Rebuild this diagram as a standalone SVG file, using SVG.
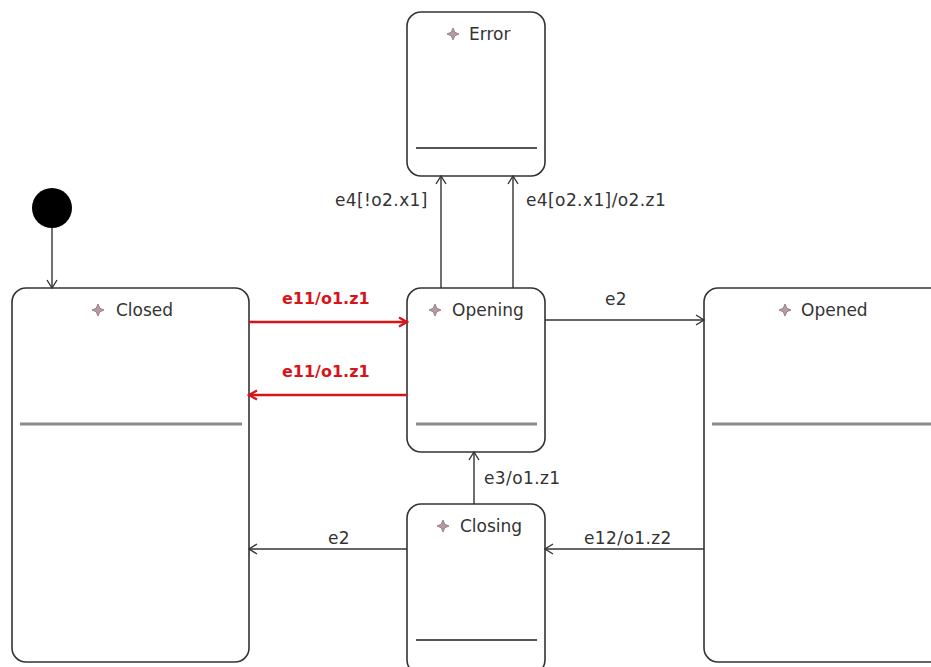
<svg xmlns="http://www.w3.org/2000/svg" width="931" height="667" viewBox="0 0 931 667">
<style>
.box{fill:#fff;stroke:#333;stroke-width:1.6}
.sep{stroke:#8a8a8a;stroke-width:3}
.sepd{stroke:#555;stroke-width:2}
.title{font-family:"DejaVu Sans",sans-serif;font-size:17px;fill:#333}
.lbl{font-family:"DejaVu Sans",sans-serif;font-size:17px;letter-spacing:0.4px;fill:#333}
.red{font-family:"DejaVu Sans",sans-serif;font-size:16px;font-weight:bold;fill:#d8141b}
.icon{fill:#b89aa6;stroke:#8a6f7a;stroke-width:0.8}
.edge{stroke:#333;stroke-width:1.4;fill:none;marker-end:url(#arr)}
.edgeR{stroke:#d8141b;stroke-width:2.6;fill:none;marker-end:url(#arrR)}
</style>
<defs>
<marker id="arr" markerWidth="12" markerHeight="12" refX="10" refY="6" orient="auto" markerUnits="userSpaceOnUse">
<path d="M2,1 L10,6 L2,11" fill="none" stroke="#333" stroke-width="1.4"/>
</marker>
<marker id="arrR" markerWidth="12" markerHeight="12" refX="10" refY="6" orient="auto" markerUnits="userSpaceOnUse">
<path d="M2,1.5 L10,6 L2,10.5" fill="none" stroke="#d8141b" stroke-width="2.2"/>
</marker>
<path id="star" d="M0,-6 L1.8,-1.8 L6,0 L1.8,1.8 L0,6 L-1.8,1.8 L-6,0 L-1.8,-1.8 Z"/>
</defs>
<rect width="931" height="667" fill="#fff"/>

<g id="initial">
<circle cx="52" cy="208" r="20" fill="#000"/>
</g>

<g id="Error">
<rect class="box" x="407" y="12" width="138" height="164" rx="14"/>
<use href="#star" class="icon" x="453" y="34"/>
<text class="title" x="469" y="40">Error</text>
<line class="sepd" x1="416" y1="148" x2="537" y2="148"/>
</g>

<g id="Closed">
<rect class="box" x="12" y="288" width="237" height="374" rx="14"/>
<use href="#star" class="icon" x="98" y="310"/>
<text class="title" x="116" y="316">Closed</text>
<line class="sep" x1="20" y1="424" x2="242" y2="424"/>
</g>

<g id="Opening">
<rect class="box" x="407" y="288" width="138" height="164" rx="14"/>
<use href="#star" class="icon" x="435" y="310"/>
<text class="title" x="452" y="316">Opening</text>
<line class="sep" x1="416" y1="424" x2="537" y2="424"/>
</g>

<g id="Opened">
<rect class="box" x="704" y="288" width="250" height="374" rx="14"/>
<use href="#star" class="icon" x="785" y="310"/>
<text class="title" x="801" y="316">Opened</text>
<line class="sep" x1="712" y1="424" x2="931" y2="424"/>
</g>

<g id="Closing">
<rect class="box" x="407" y="504" width="138" height="170" rx="14"/>
<use href="#star" class="icon" x="443" y="526"/>
<text class="title" x="460" y="532">Closing</text>
<line class="sepd" x1="416" y1="640" x2="537" y2="640"/>
</g>

<g id="connectors">
<path class="edge" d="M52,228 L52,288"/>
<path class="edgeR" d="M249,322 L407,322"/>
<text class="red" x="282" y="304">e11/o1.z1</text>
<path class="edgeR" d="M407,395 L249,395"/>
<text class="red" x="282" y="377">e11/o1.z1</text>
<path class="edge" d="M441,288 L441,176"/>
<text class="lbl" x="335" y="206">e4[!o2.x1]</text>
<path class="edge" d="M513,288 L513,176"/>
<text class="lbl" x="526" y="206">e4[o2.x1]/o2.z1</text>
<path class="edge" d="M545,320 L704,320"/>
<text class="lbl" x="605" y="305">e2</text>
<path class="edge" d="M474,504 L474,452"/>
<text class="lbl" x="484" y="484">e3/o1.z1</text>
<path class="edge" d="M704,549 L545,549"/>
<text class="lbl" x="584" y="544">e12/o1.z2</text>
<path class="edge" d="M407,549 L249,549"/>
<text class="lbl" x="328" y="544">e2</text>
</g>
</svg>
